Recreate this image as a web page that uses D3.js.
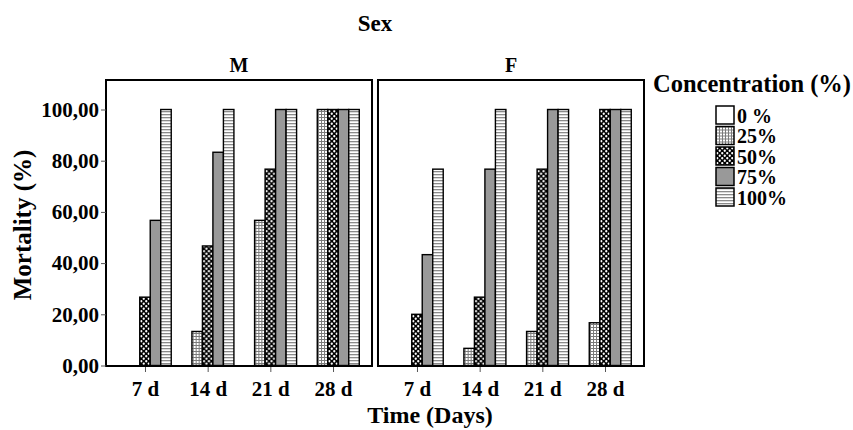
<!DOCTYPE html>
<html>
<head>
<meta charset="utf-8">
<script src="https://cdn.jsdelivr.net/npm/d3@7"></script>
<style>
  body { margin: 0; background: #fff; }
  svg text { font-family: "Liberation Serif", "Times New Roman", serif; font-weight: bold; fill: #000; }
</style>
</head>
<body>
<div class="vis-bars"></div>
<script>
const days = ["7 d", "14 d", "21 d", "28 d"];
const concentrations = ["0 %", "25%", "50%", "75%", "100%"];
const sexes = ["M", "F"];
// mortality (%) per day, one value per concentration
const maleValues = [
  [0, 0, 26.7, 56.7, 100],
  [0, 13.3, 46.7, 83.3, 100],
  [0, 56.7, 76.7, 100, 100],
  [0, 100, 100, 100, 100]
];
const femaleValues = [
  [0, 0, 20, 43.3, 76.7],
  [0, 6.7, 26.7, 76.7, 100],
  [0, 13.3, 76.7, 100, 100],
  [0, 16.7, 100, 100, 100]
];
const yTicks = [0, 20, 40, 60, 80, 100];

const width = 853, height = 430;

const svg = d3.select(".vis-bars")
  .append("svg")
  .attr("width", width)
  .attr("height", height);

// fill patterns
const defs = svg.append("defs");

const p25 = defs.append("pattern").attr("id", "p25")
  .attr("patternUnits", "userSpaceOnUse").attr("width", 3).attr("height", 3);
p25.append("rect").attr("width", 3).attr("height", 3).attr("fill", "#fff");
p25.append("rect").attr("width", 3).attr("height", 1).attr("fill", "#7a7a7a");
p25.append("rect").attr("width", 1).attr("height", 3).attr("fill", "#7a7a7a");

const p50 = defs.append("pattern").attr("id", "p50")
  .attr("patternUnits", "userSpaceOnUse").attr("width", 5).attr("height", 5);
p50.append("rect").attr("width", 5).attr("height", 5).attr("fill", "#000");
p50.append("circle").attr("cx", 1.25).attr("cy", 1.25).attr("r", 1.15).attr("fill", "#fff");
p50.append("circle").attr("cx", 3.75).attr("cy", 3.75).attr("r", 1.15).attr("fill", "#fff");

const p100 = defs.append("pattern").attr("id", "p100")
  .attr("patternUnits", "userSpaceOnUse").attr("width", 3).attr("height", 3);
p100.append("rect").attr("width", 3).attr("height", 3).attr("fill", "#fff");
p100.append("rect").attr("width", 3).attr("height", 1.3).attr("fill", "#8a8a8a");

const fill = d3.scaleOrdinal()
  .domain(concentrations)
  .range(["#fff", "url(#p25)", "url(#p50)", "#999", "url(#p100)"]);

// scales
const panelX = d3.scaleBand().domain(sexes).range([106, 644]).paddingInner(0.022);
const dayX = d3.scalePoint().domain(days).range([0, panelX.bandwidth()]).padding(0.622);
const concX = d3.scaleBand().domain(concentrations).range([-26.25, 26.25]);
const y = d3.scaleLinear().domain([0, 100]).range([365.5, 109.5]);

const frameTop = 80, frameBottom = 366;

svg.append("text")
  .attr("x", 375).attr("y", 31)
  .attr("text-anchor", "middle")
  .style("font-size", "23px")
  .text("Sex");

const dataBySex = { M: maleValues, F: femaleValues };

sexes.forEach((sex) => {
  const g = svg.append("g").attr("transform", "translate(" + panelX(sex) + ",0)");

  g.append("text")
    .attr("x", panelX.bandwidth() / 2).attr("y", 72)
    .attr("text-anchor", "middle")
    .style("font-size", "20px")
    .text(sex);

  const groups = g.selectAll(".day")
    .data(dataBySex[sex])
    .enter()
    .append("g")
    .attr("class", "day")
    .attr("transform", (d, i) => "translate(" + dayX(days[i]) + ",0)");

  groups.selectAll("rect")
    .data((d) => d.map((v, j) => ({ conc: concentrations[j], value: v })))
    .enter()
    .append("rect")
    .attr("x", (d) => concX(d.conc))
    .attr("width", concX.bandwidth())
    .attr("y", (d) => y(d.value))
    .attr("height", (d) => y(0) - y(d.value))
    .attr("fill", (d) => fill(d.conc))
    .attr("stroke", "#000")
    .attr("stroke-width", 1.4);

  const xAxis = g.append("g")
    .attr("transform", "translate(0," + frameBottom + ")")
    .call(d3.axisBottom(dayX).tickSize(6).tickPadding(9));
  xAxis.select(".domain").remove();
  xAxis.selectAll("line").attr("stroke", "#555");
  xAxis.selectAll("text")
    .style("font-family", "'Liberation Serif', 'Times New Roman', serif")
    .style("font-weight", "bold")
    .style("font-size", "21px");

  g.append("rect")
    .attr("x", 0).attr("y", frameTop)
    .attr("width", panelX.bandwidth())
    .attr("height", frameBottom - frameTop)
    .attr("fill", "none")
    .attr("stroke", "#000")
    .attr("stroke-width", 2);
});

const yAxis = svg.append("g")
  .attr("transform", "translate(106,0)")
  .call(d3.axisLeft(y)
    .tickValues(yTicks)
    .tickSize(5)
    .tickPadding(2)
    .tickFormat((d) => d3.format(".2f")(d).replace(".", ",")));
yAxis.select(".domain").remove();
yAxis.selectAll("line").attr("stroke", "#555");
yAxis.selectAll("text")
  .style("font-family", "'Liberation Serif', 'Times New Roman', serif")
  .style("font-weight", "bold")
  .style("font-size", "21px");

svg.append("text")
  .attr("transform", "translate(31,225) rotate(-90)")
  .attr("text-anchor", "middle")
  .style("font-size", "25px")
  .text("Mortality (%)");

svg.append("text")
  .attr("x", 430).attr("y", 423)
  .attr("text-anchor", "middle")
  .style("font-size", "24px")
  .text("Time (Days)");

// legend
svg.append("text")
  .attr("x", 653).attr("y", 92)
  .style("font-size", "24.5px")
  .text("Concentration (%)");

const legendG = svg.selectAll(".legend")
  .data(concentrations)
  .enter()
  .append("g")
  .attr("class", "legend")
  .attr("transform", (d, i) => "translate(716," + (106 + i * 20.5) + ")");

legendG.append("rect")
  .attr("width", 18)
  .attr("height", 18)
  .attr("fill", (d) => fill(d))
  .attr("stroke", "#000")
  .attr("stroke-width", 1.5);

legendG.append("text")
  .attr("x", 21)
  .attr("y", 16.5)
  .style("font-size", "20px")
  .text((d) => d);
</script>
</body>
</html>
